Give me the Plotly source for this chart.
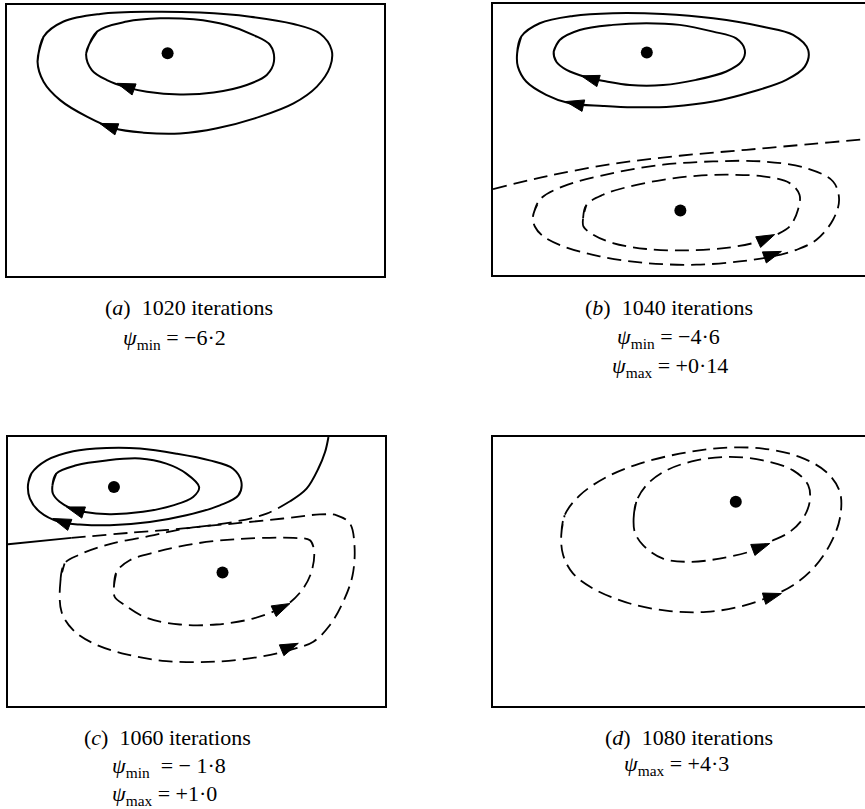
import plotly.graph_objects as go

# ---------------- data (normalized cavity coordinates: x right, y up) ----------------
# Panel (a) 1020 iterations
a_in_x = [0.210, 0.239, 0.318, 0.406, 0.495, 0.583, 0.654, 0.698, 0.708, 0.689, 0.636, 0.548, 0.459, 0.371, 0.318, 0.265, 0.225]
a_in_y = [0.822, 0.902, 0.939, 0.951, 0.947, 0.926, 0.889, 0.852, 0.791, 0.742, 0.705, 0.677, 0.670, 0.680, 0.696, 0.723, 0.760]
a_out_x = [0.081, 0.097, 0.150, 0.247, 0.380, 0.512, 0.645, 0.760, 0.830, 0.861, 0.857, 0.822, 0.760, 0.671, 0.557, 0.459, 0.362, 0.283, 0.212, 0.141, 0.097]
a_out_y = [0.791, 0.883, 0.939, 0.967, 0.975, 0.972, 0.957, 0.930, 0.895, 0.834, 0.772, 0.699, 0.637, 0.588, 0.545, 0.526, 0.529, 0.545, 0.588, 0.649, 0.717]
a_dot_x = [0.426]
a_dot_y = [0.822]

# Panel (b) 1040 iterations
b_in_x = [0.161, 0.177, 0.230, 0.318, 0.407, 0.495, 0.584, 0.645, 0.668, 0.659, 0.619, 0.539, 0.451, 0.363, 0.301, 0.248, 0.195, 0.168]
b_in_y = [0.824, 0.867, 0.904, 0.923, 0.929, 0.923, 0.898, 0.873, 0.830, 0.787, 0.751, 0.720, 0.701, 0.701, 0.714, 0.730, 0.757, 0.787]
b_out_x = [0.064, 0.075, 0.124, 0.212, 0.318, 0.451, 0.584, 0.716, 0.796, 0.836, 0.827, 0.778, 0.690, 0.584, 0.477, 0.371, 0.292, 0.203, 0.141, 0.088, 0.066]
b_out_y = [0.818, 0.880, 0.929, 0.956, 0.966, 0.963, 0.947, 0.916, 0.886, 0.830, 0.769, 0.720, 0.677, 0.640, 0.622, 0.619, 0.624, 0.634, 0.665, 0.714, 0.769]
b_sep_x = [0.000, 0.141, 0.318, 0.495, 0.672, 0.849, 0.986, 1.000]
b_sep_y = [0.317, 0.364, 0.410, 0.440, 0.462, 0.484, 0.501, 0.503]
b_lo_out_x = [0.106, 0.124, 0.186, 0.318, 0.451, 0.584, 0.716, 0.831, 0.902, 0.918, 0.902, 0.858, 0.805, 0.743, 0.654, 0.539, 0.407, 0.283, 0.186, 0.133, 0.111]
b_lo_out_y = [0.216, 0.278, 0.327, 0.376, 0.407, 0.419, 0.419, 0.394, 0.345, 0.278, 0.204, 0.130, 0.093, 0.069, 0.050, 0.038, 0.044, 0.069, 0.106, 0.143, 0.179]
b_lo_in_x = [0.239, 0.248, 0.292, 0.363, 0.451, 0.539, 0.628, 0.716, 0.787, 0.813, 0.809, 0.787, 0.752, 0.707, 0.619, 0.513, 0.407, 0.318, 0.265, 0.240]
b_lo_in_y = [0.210, 0.259, 0.296, 0.327, 0.351, 0.366, 0.370, 0.364, 0.339, 0.296, 0.241, 0.179, 0.149, 0.124, 0.100, 0.091, 0.096, 0.118, 0.149, 0.179]
b_dot_x = [0.408, 0.497]
b_dot_y = [0.821, 0.238]

# Panel (c) 1060 iterations
c_in_x = [0.118, 0.128, 0.181, 0.261, 0.350, 0.420, 0.473, 0.507, 0.491, 0.438, 0.358, 0.270, 0.199, 0.168, 0.137, 0.119]
c_in_y = [0.821, 0.864, 0.895, 0.913, 0.920, 0.901, 0.864, 0.814, 0.777, 0.746, 0.722, 0.713, 0.722, 0.734, 0.759, 0.790]
c_out_x = [0.053, 0.062, 0.102, 0.173, 0.261, 0.350, 0.447, 0.535, 0.597, 0.619, 0.611, 0.562, 0.473, 0.376, 0.270, 0.190, 0.137, 0.084, 0.058]
c_out_y = [0.821, 0.864, 0.913, 0.947, 0.959, 0.957, 0.938, 0.913, 0.882, 0.833, 0.783, 0.746, 0.709, 0.684, 0.672, 0.675, 0.684, 0.722, 0.771]
c_sep_left_x = [0.000, 0.168]
c_sep_left_y = [0.601, 0.625]
c_sep_mid_x = [0.168, 0.332, 0.465, 0.597, 0.686, 0.748]
c_sep_mid_y = [0.625, 0.645, 0.660, 0.684, 0.715, 0.761]
c_sep_right_x = [0.748, 0.792, 0.823, 0.841, 0.850]
c_sep_right_y = [0.761, 0.808, 0.882, 0.944, 1.000]
c_lo_out_x = [0.139, 0.150, 0.190, 0.270, 0.376, 0.473, 0.597, 0.730, 0.827, 0.872, 0.907, 0.919, 0.914, 0.889, 0.854, 0.810, 0.748, 0.668, 0.553, 0.420, 0.314, 0.226, 0.173, 0.142]
c_lo_out_y = [0.462, 0.530, 0.563, 0.602, 0.632, 0.660, 0.678, 0.697, 0.712, 0.709, 0.678, 0.598, 0.486, 0.387, 0.301, 0.239, 0.208, 0.183, 0.165, 0.167, 0.192, 0.233, 0.282, 0.350]
c_lo_in_x = [0.281, 0.288, 0.323, 0.394, 0.473, 0.553, 0.642, 0.757, 0.801, 0.812, 0.805, 0.783, 0.748, 0.712, 0.650, 0.553, 0.456, 0.367, 0.310, 0.283]
c_lo_in_y = [0.443, 0.499, 0.542, 0.573, 0.598, 0.614, 0.623, 0.625, 0.616, 0.573, 0.499, 0.437, 0.385, 0.356, 0.325, 0.303, 0.303, 0.328, 0.375, 0.406]
c_dot_x = [0.281, 0.569]
c_dot_y = [0.814, 0.496]

# Panel (d) 1080 iterations
d_in_x = [0.373, 0.380, 0.407, 0.460, 0.539, 0.628, 0.716, 0.796, 0.836, 0.840, 0.822, 0.787, 0.734, 0.685, 0.601, 0.522, 0.451, 0.398, 0.376]
d_in_y = [0.697, 0.759, 0.821, 0.876, 0.913, 0.926, 0.913, 0.876, 0.821, 0.759, 0.697, 0.647, 0.610, 0.576, 0.548, 0.536, 0.548, 0.598, 0.647]
d_out_x = [0.181, 0.190, 0.230, 0.301, 0.389, 0.495, 0.601, 0.716, 0.813, 0.884, 0.920, 0.920, 0.893, 0.849, 0.796, 0.734, 0.654, 0.566, 0.469, 0.363, 0.265, 0.212, 0.186]
d_out_y = [0.635, 0.709, 0.783, 0.851, 0.901, 0.938, 0.959, 0.957, 0.926, 0.870, 0.796, 0.697, 0.598, 0.511, 0.449, 0.406, 0.369, 0.350, 0.353, 0.381, 0.437, 0.493, 0.561]
d_dot_x = [0.644]
d_dot_y = [0.759]

# Flow-direction arrows: (tail_x, tail_y, tip_x, tip_y)
a_arrows = [(0.336, 0.689, 0.292, 0.711), (0.292, 0.541, 0.246, 0.563)]
b_arrows = [(0.270, 0.720, 0.234, 0.735), (0.230, 0.628, 0.193, 0.640),
            (0.698, 0.118, 0.747, 0.149), (0.716, 0.063, 0.765, 0.087)]
c_arrows = [(0.190, 0.724, 0.155, 0.740), (0.155, 0.678, 0.119, 0.697),
            (0.686, 0.340, 0.748, 0.381), (0.717, 0.202, 0.770, 0.233)]
d_arrows = [(0.672, 0.571, 0.734, 0.604), (0.707, 0.394, 0.765, 0.418)]

# Captions
cap_a = ["(<i>a</i>)  1020 iterations", "<i>ψ</i><sub>min</sub> = −6·2"]
cap_b = ["(<i>b</i>)  1040 iterations", "<i>ψ</i><sub>min</sub> = −4·6", "<i>ψ</i><sub>max</sub> = +0·14"]
cap_c = ["(<i>c</i>)  1060 iterations", "<i>ψ</i><sub>min</sub>  = − 1·8", "<i>ψ</i><sub>max</sub> = +1·0"]
cap_d = ["(<i>d</i>)  1080 iterations", "<i>ψ</i><sub>max</sub> = +4·3"]

# ---------------- figure ----------------
W, H = 865, 809
fig = go.Figure()

SOLID = dict(color="black", width=2)
DASH = dict(color="black", width=1.8, dash="14px,7px")


def closed(xs, ys):
    return list(xs) + [xs[0], xs[1]], list(ys) + [ys[0], ys[1]]


def add_loop(xs, ys, line, ax):
    cx, cy = closed(xs, ys)
    fig.add_trace(go.Scatter(x=cx, y=cy, mode="lines", line=dict(shape="spline", smoothing=1.0, **line),
                             xaxis="x" + ax, yaxis="y" + ax, hoverinfo="skip", showlegend=False))


def add_open(xs, ys, line, ax):
    fig.add_trace(go.Scatter(x=xs, y=ys, mode="lines", line=dict(shape="spline", smoothing=1.0, **line),
                             xaxis="x" + ax, yaxis="y" + ax, hoverinfo="skip", showlegend=False))


def add_dots(xs, ys, ax):
    fig.add_trace(go.Scatter(x=xs, y=ys, mode="markers", marker=dict(color="black", size=12),
                             xaxis="x" + ax, yaxis="y" + ax, hoverinfo="skip", showlegend=False))


def add_arrows(arrs, ax):
    for (x0, y0, x1, y1) in arrs:
        fig.add_trace(go.Scatter(x=[x0, x1], y=[y0, y1], mode="markers",
                                 marker=dict(symbol=["circle", "arrow"], size=[0, 19], color="black",
                                             opacity=1, angleref="previous",
                                             line=dict(width=1, color="black")),
                                 xaxis="x" + ax, yaxis="y" + ax, hoverinfo="skip", showlegend=False))


# (a)
add_loop(a_in_x, a_in_y, SOLID, "")
add_loop(a_out_x, a_out_y, SOLID, "")
add_dots(a_dot_x, a_dot_y, "")
add_arrows(a_arrows, "")
# (b)
add_loop(b_in_x, b_in_y, SOLID, "2")
add_loop(b_out_x, b_out_y, SOLID, "2")
add_open(b_sep_x, b_sep_y, DASH, "2")
add_loop(b_lo_out_x, b_lo_out_y, DASH, "2")
add_loop(b_lo_in_x, b_lo_in_y, DASH, "2")
add_dots(b_dot_x, b_dot_y, "2")
add_arrows(b_arrows, "2")
# (c)
add_loop(c_in_x, c_in_y, SOLID, "3")
add_loop(c_out_x, c_out_y, SOLID, "3")
add_open(c_sep_left_x, c_sep_left_y, SOLID, "3")
add_open(c_sep_mid_x, c_sep_mid_y, DASH, "3")
add_open(c_sep_right_x, c_sep_right_y, SOLID, "3")
add_loop(c_lo_out_x, c_lo_out_y, DASH, "3")
add_loop(c_lo_in_x, c_lo_in_y, DASH, "3")
add_dots(c_dot_x, c_dot_y, "3")
add_arrows(c_arrows, "3")
# (d)
add_loop(d_in_x, d_in_y, DASH, "4")
add_loop(d_out_x, d_out_y, DASH, "4")
add_dots(d_dot_x, d_dot_y, "4")
add_arrows(d_arrows, "4")


def ax_style(dom, rng, mirror):
    return dict(domain=dom, range=rng, showline=True, mirror=mirror, linecolor="black", linewidth=2,
                showticklabels=False, ticks="", showgrid=False, zeroline=False, fixedrange=True)


def px_x(p):
    return p / W


def px_y(p):
    return 1 - p / H


fig.update_layout(
    width=W, height=H, margin=dict(l=0, r=0, t=0, b=0),
    paper_bgcolor="white", plot_bgcolor="white", showlegend=False,
    xaxis=ax_style([px_x(7), px_x(384)], [0, 1], True),
    yaxis=ax_style([px_y(276), px_y(5)], [0, 1], True),
    xaxis2=ax_style([px_x(493), 1.0], [0, 372 / 377], True),
    yaxis2=ax_style([px_y(275), px_y(4)], [0, 1], False),
    xaxis3=ax_style([px_x(8), px_x(385)], [0, 1], True),
    yaxis3=ax_style([px_y(706), px_y(437)], [0, 1], True),
    xaxis4=ax_style([px_x(493), 1.0], [0, 372 / 377], True),
    yaxis4=ax_style([px_y(706), px_y(437)], [0, 1], False),
)
for k in ["yaxis", "yaxis2", "yaxis3", "yaxis4"]:
    fig.layout[k].anchor = k.replace("yaxis", "x")
for k in ["xaxis", "xaxis2", "xaxis3", "xaxis4"]:
    fig.layout[k].anchor = k.replace("xaxis", "y")

FONT = dict(family="Liberation Serif", size=22, color="black")
cap_pos = [
    (cap_a, [(103, 308), (121, 339)]),
    (cap_b, [(583, 307), (615, 338), (610, 367)]),
    (cap_c, [(82, 737), (110, 767), (110, 795)]),
    (cap_d, [(603, 737), (622, 765)]),
]
for lines, pos in cap_pos:
    for txt, (px, py) in zip(lines, pos):
        fig.add_annotation(x=px_x(px), y=px_y(py), xref="paper", yref="paper", text=txt,
                           showarrow=False, xanchor="left", yanchor="middle", font=FONT)

fig.write_html("out.html", config={"displayModeBar": False},
               post_script="document.body.style.margin='0';document.body.style.overflow='hidden';")
